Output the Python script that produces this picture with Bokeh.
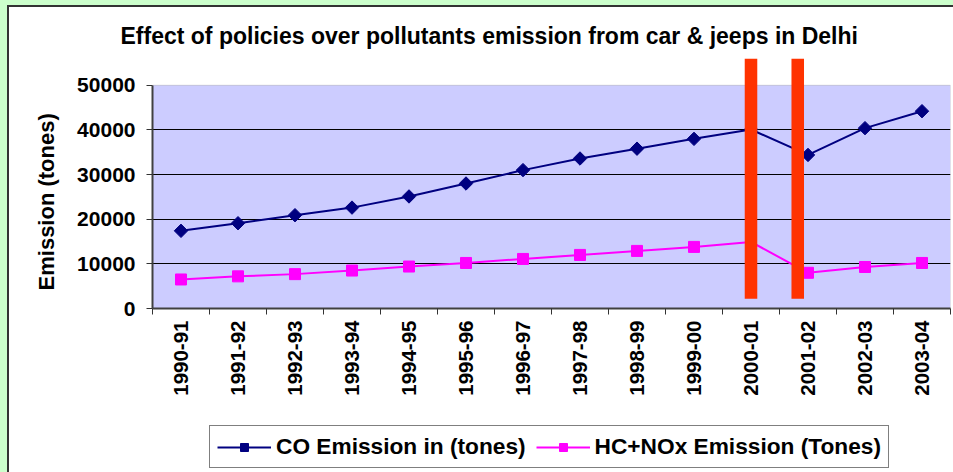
import math
from bokeh.plotting import figure
from bokeh.layouts import column
from bokeh.models import (FixedTicker, NumeralTickFormatter, BoxAnnotation, Legend,
                          LegendItem, ColumnDataSource, Range1d)
from bokeh.embed import file_html
from bokeh.resources import INLINE

# ---------------- data ----------------
categories = ["1990-91", "1991-92", "1992-93", "1993-94", "1994-95", "1995-96", "1996-97",
              "1997-98", "1998-99", "1999-00", "2000-01", "2001-02", "2002-03", "2003-04"]
co_emission = [17400, 19100, 20900, 22600, 25100, 28000, 31000,
               33600, 35800, 38000, 40100, 34400, 40400, 44200]
hc_nox_emission = [6500, 7200, 7700, 8500, 9400, 10200, 11100,
                   12000, 12900, 13800, 14900, 8000, 9300, 10200]
y_ticks = [0, 10000, 20000, 30000, 40000, 50000]
policy_years = ["2000-01", "2001-02"]

TITLE = "Effect of policies over pollutants emission from car & jeeps in Delhi"
Y_TITLE = "Emission (tones)"
FONT = "Liberation Sans"
CO_COLOR = "#000080"
HC_COLOR = "#FF00FF"

# ---------------- positions through the categorical index ----------------
x_pos = [i + 0.5 for i in range(len(categories))]
src = ColumnDataSource(dict(x=x_pos, co=co_emission, hc=hc_nox_emission))

policy_offsets = [0.0, -0.18]
bar_w = 0.22
bar_left = [categories.index(c) + 0.5 + o - bar_w / 2 for c, o in zip(policy_years, policy_offsets)]
bar_right = [l + bar_w for l in bar_left]
bar_bottom = 2200
y_top = 56000
y_max = y_ticks[-1]

p = figure(width=944, height=406, output_backend="svg", toolbar_location=None,
           x_range=Range1d(0, len(categories)), y_range=Range1d(0, y_top),
           min_border_left=143, min_border_right=3, min_border_top=51, min_border_bottom=105)
p.background_fill_color = "white"
p.border_fill_color = "white"
p.outline_line_color = None

# plot area (lavender) limited to 0..50000
p.add_layout(BoxAnnotation(bottom=0, top=y_max, fill_color="#CCCCFF", fill_alpha=1,
                           line_color="#808080", line_width=1, level="image"))

p.line("x", "co", source=src, line_color=CO_COLOR, line_width=2)
p.scatter("x", "co", source=src, marker="square", angle=math.pi / 4, size=9.5,
          fill_color=CO_COLOR, line_color=CO_COLOR)
p.line("x", "hc", source=src, line_color=HC_COLOR, line_width=2)
p.scatter("x", "hc", source=src, marker="square", size=11,
          fill_color=HC_COLOR, line_color=HC_COLOR)

p.quad(left=bar_left, right=bar_right, bottom=bar_bottom, top=y_top,
       fill_color="#FF3300", line_color=None)

# ---------------- axes ----------------
xa = p.xaxis[0]
xa.ticker = FixedTicker(ticks=x_pos, minor_ticks=list(range(len(categories) + 1)))
xa.major_label_overrides = {x: c for x, c in zip(x_pos, categories)}
xa.major_label_orientation = math.pi / 2
xa.major_tick_out = 0
xa.major_tick_in = 0
xa.minor_tick_out = 6
xa.minor_tick_in = 0
xa.minor_tick_line_color = "#333333"
xa.major_label_standoff = 6
xa.major_label_text_font = FONT
xa.major_label_text_font_style = "bold"
xa.major_label_text_font_size = "20.5px"
xa.major_label_text_color = "black"
xa.axis_line_color = "#404040"
xa.axis_line_width = 2

ya = p.yaxis[0]
ya.ticker = FixedTicker(ticks=y_ticks)
ya.bounds = (0, y_max)
ya.formatter = NumeralTickFormatter(format="0")
ya.major_tick_out = 6
ya.major_tick_in = 0
ya.minor_tick_line_color = None
ya.major_tick_line_color = "#333333"
ya.major_label_standoff = 11
ya.major_label_text_font = FONT
ya.major_label_text_font_style = "bold"
ya.major_label_text_font_size = "21px"
ya.major_label_text_color = "black"
ya.axis_line_color = "#404040"
ya.axis_line_width = 2
# trailing no-break spaces centre the visible title on the 0..50000 span
ya.axis_label = Y_TITLE + "\u00a0" * 6
ya.axis_label_text_font = FONT
ya.axis_label_text_font_style = "bold"
ya.axis_label_text_font_size = "22px"
ya.axis_label_text_color = "black"
ya.axis_label_standoff = 15

p.xgrid.visible = False
p.ygrid.ticker = FixedTicker(ticks=y_ticks[1:-1])
p.ygrid.grid_line_color = "black"
p.ygrid.grid_line_width = 1

# ---------------- title ----------------
p.title.text = TITLE
p.title.align = "left"
p.title.offset = -32
p.title.text_font = FONT
p.title.text_font_style = "bold"
p.title.text_font_size = "23px"
p.title.text_color = "black"
p.title.standoff = 20

# ---------------- legend strip (own figure, same data, drawn off-view) ----------------
q = figure(width=944, height=59, output_backend="svg", toolbar_location=None,
           x_range=Range1d(0, 944), y_range=Range1d(0, 59),
           min_border_left=0, min_border_right=0, min_border_top=0, min_border_bottom=0)
q.axis.visible = False
q.grid.visible = False
q.outline_line_color = None
q.background_fill_color = "white"
q.border_fill_color = "white"
co_line = q.line("x", "co", source=src, line_color=CO_COLOR, line_width=2)
co_pts = q.scatter("x", "co", source=src, marker="square", angle=math.pi / 4, size=9.5,
                   fill_color=CO_COLOR, line_color=CO_COLOR)
hc_line = q.line("x", "hc", source=src, line_color=HC_COLOR, line_width=2)
hc_pts = q.scatter("x", "hc", source=src, marker="square", size=11,
                   fill_color=HC_COLOR, line_color=HC_COLOR)

legend = Legend(items=[LegendItem(label="CO Emission in (tones)", renderers=[co_line, co_pts]),
                       LegendItem(label="HC+NOx Emission (Tones)", renderers=[hc_line, hc_pts])],
                location=(57, 4), orientation="horizontal", margin=0,
                glyph_width=54, glyph_height=20, label_standoff=5, spacing=10, padding=7,
                border_line_color="black", border_line_width=1,
                background_fill_color="white", background_fill_alpha=1,
                label_text_font=FONT, label_text_font_style="bold", label_text_font_size="22.7px",
                label_text_color="black")
q.add_layout(legend)

inner = column(p, q, spacing=0,
               styles={"border-left": "2px solid #333333", "border-top": "2px solid #333333",
                       "background-color": "white"})
page = column(inner, spacing=0,
              styles={"background-color": "#CCFFCC", "padding-left": "7px", "padding-top": "5px"})

open("out.html", "w").write(file_html(page, INLINE))
